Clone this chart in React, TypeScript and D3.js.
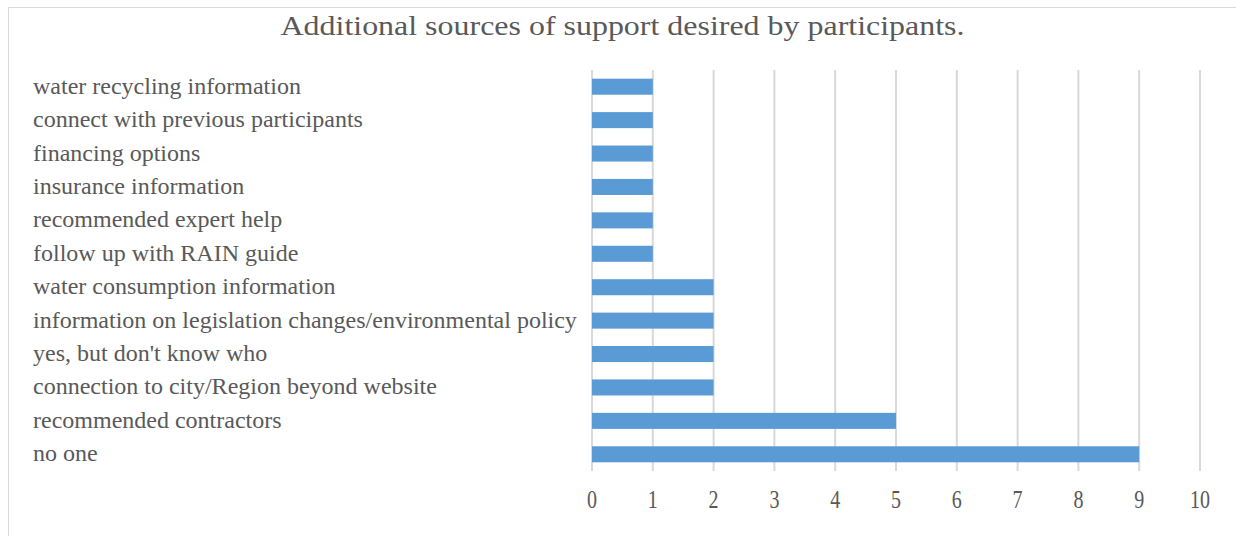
import React from "react";
import * as d3 from "d3";

const categories = [
  "water recycling information",
  "connect with previous participants",
  "financing options",
  "insurance information",
  "recommended expert help",
  "follow up with RAIN guide",
  "water consumption information",
  "information on legislation changes/environmental policy",
  "yes, but don't know who",
  "connection to city/Region beyond website",
  "recommended contractors",
  "no one",
];
const values = [1, 1, 1, 1, 1, 1, 2, 2, 2, 2, 5, 9];
const tickValues = [0, 1, 2, 3, 4, 5, 6, 7, 8, 9, 10];
const title = "Additional sources of support desired by participants.";

export default function App() {
  const W = 1236, H = 536;
  const x = d3.scaleLinear().domain([0, 10]).range([592, 1200]);
  const y = d3.scaleBand<string>().domain(categories).range([70, 471]);
  const bh = y.bandwidth() * 0.48;
  const font = "'Liberation Serif', 'Times New Roman', serif";
  return (
    <svg width={W} height={H} style={{ position: "absolute", left: 0, top: 0, background: "#fff" }}>
      <rect x={8.5} y={7.5} width={1240} height={540} fill="#fff" stroke="#d9d9d9" strokeWidth={1} />
      <text x={622.5} y={35} textAnchor="middle" fontFamily={font} fontSize={27} fill="#595959"
        textLength={684} lengthAdjust="spacingAndGlyphs">{title}</text>
      {tickValues.map((t) => (
        <g key={t}>
          <line x1={x(t)} x2={x(t)} y1={70} y2={471} stroke="#d9d9d9" strokeWidth={2} />
          <text transform={`translate(${x(t)},508) scale(1,1.25)`} textAnchor="middle" fontFamily={font} fontSize={20} fill="#595959">{t}</text>
        </g>
      ))}
      {categories.map((c, i) => {
        const cy = (y(c) as number) + y.bandwidth() / 2;
        return (
          <g key={c}>
            <rect x={x(0)} y={cy - bh / 2} width={x(values[i]) - x(0)} height={bh} fill="#5b9bd5" />
            <text x={33} y={cy + 7} fontFamily={font} fontSize={24} fill="#595959">{c}</text>
          </g>
        );
      })}
    </svg>
  );
}
